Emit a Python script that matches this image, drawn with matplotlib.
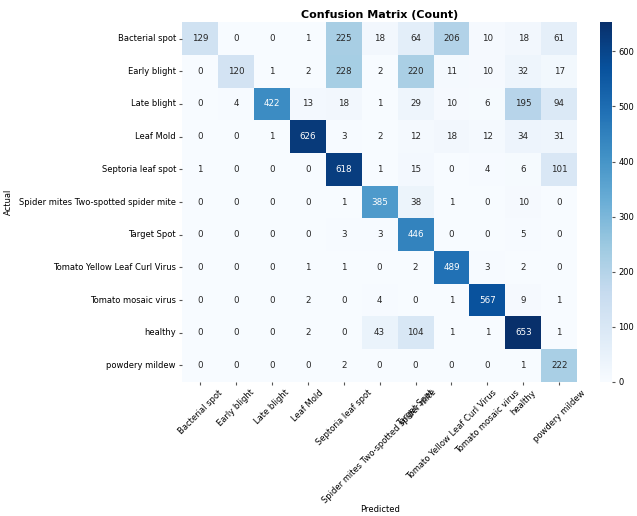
import matplotlib
matplotlib.use("Agg")
import matplotlib.pyplot as plt
import seaborn as sns
import numpy as np

classes = [
    "Bacterial spot", "Early blight", "Late blight", "Leaf Mold",
    "Septoria leaf spot", "Spider mites Two-spotted spider mite",
    "Target Spot", "Tomato Yellow Leaf Curl Virus", "Tomato mosaic virus",
    "healthy", "powdery mildew",
]

# rows = actual, columns = predicted
counts = [
    [129, 0, 0, 1, 225, 18, 64, 206, 10, 18, 61],
    [0, 120, 1, 2, 228, 2, 220, 11, 10, 32, 17],
    [0, 4, 422, 13, 18, 1, 29, 10, 6, 195, 94],
    [0, 0, 1, 626, 3, 2, 12, 18, 12, 34, 31],
    [1, 0, 0, 0, 618, 1, 15, 0, 4, 6, 101],
    [0, 0, 0, 0, 1, 385, 38, 1, 0, 10, 0],
    [0, 0, 0, 0, 3, 3, 446, 0, 0, 5, 0],
    [0, 0, 0, 1, 1, 0, 2, 489, 3, 2, 0],
    [0, 0, 0, 2, 0, 4, 0, 1, 567, 9, 1],
    [0, 0, 0, 2, 0, 43, 104, 1, 1, 653, 1],
    [0, 0, 0, 0, 2, 0, 0, 0, 0, 1, 222],
]

cm = np.array(counts)

fig = plt.figure(figsize=(6.37, 5.16), dpi=100)
ax = fig.add_axes([0.286, 0.260, 0.620, 0.697])
cax = fig.add_axes([0.942, 0.260, 0.019, 0.697])

sns.heatmap(cm, annot=True, fmt="d", cmap="Blues", ax=ax, cbar_ax=cax,
            xticklabels=classes, yticklabels=classes,
            annot_kws={"fontsize": 6.3})

ax.set_title("Confusion Matrix (Count)", fontsize=8, fontweight="bold", pad=3)
ax.set_xlabel("Predicted", fontsize=6)
ax.xaxis.set_label_coords(0.5, -0.343)
ax.set_ylabel("Actual", fontsize=6)
ax.tick_params(axis="both", labelsize=6, length=2.5, pad=2, color="#555555")
plt.setp(ax.get_xticklabels(), rotation=45, ha="center")
plt.setp(ax.get_yticklabels(), rotation=0)
cax.tick_params(labelsize=6, length=2.5, pad=2, color="#555555")
cax.set_yticks([0, 100, 200, 300, 400, 500, 600])

# fragment of a caption cut off at the top edge
fig.text(0.795, 1.004, "(Normalized)", fontsize=9, fontweight="bold",
         ha="center", va="baseline", color="#222222")

fig.savefig("out.png", dpi=100)
